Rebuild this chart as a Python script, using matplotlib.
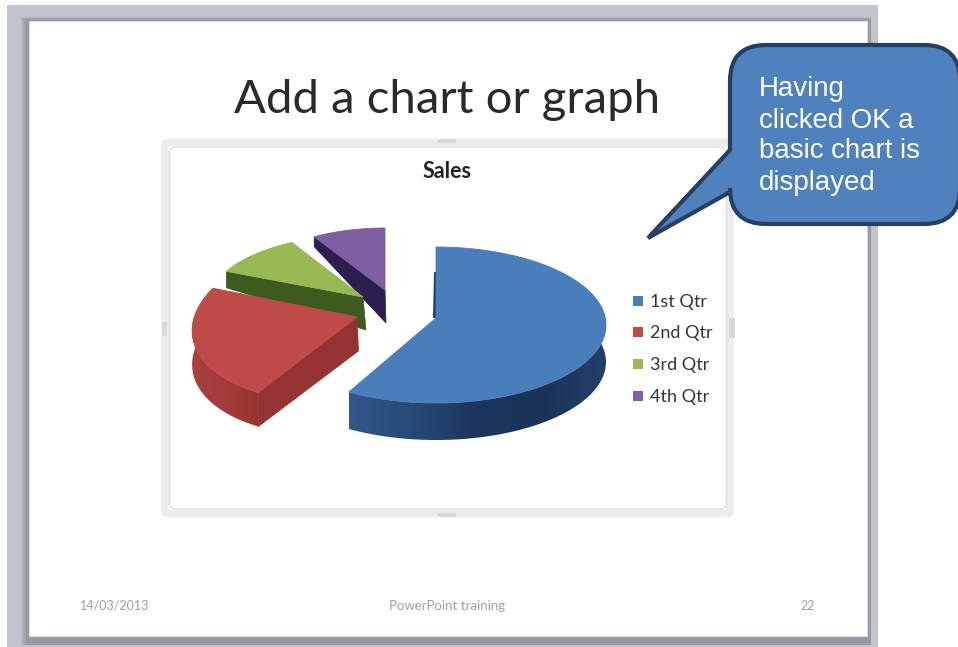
import numpy as np
import matplotlib
matplotlib.use('Agg')
import matplotlib.pyplot as plt
from matplotlib.colors import LinearSegmentedColormap
from matplotlib.path import Path
from matplotlib.patches import FancyBboxPatch, PathPatch, Polygon, Rectangle

# --- Data ---
categories = ['1st Qtr', '2nd Qtr', '3rd Qtr', '4th Qtr']
sales = [8.2, 3.2, 1.4, 1.2]
chart_title = 'Sales'
slide_title = 'Add a chart or graph'
callout_lines = ['Having', 'clicked OK a', 'basic chart is', 'displayed']

# --- Styles ---
top_colors = ['#4a7ebb', '#be4b48', '#98b954', '#7d60a0']
wall_colors = ['#254a78', '#943331', '#3f5a1e', '#2c1e4e']
legend_colors = ['#4a7ebb', '#be4b48', '#98b954', '#7d60a0']

# pie layout for each slice, in pixels (perspective is faked with a 2x2 matrix)
center = [(436, 325), (357, 317), (363, 297), (385, 290)]
tip = [(436, 318), (357, 317), (363, 297), (385, 290)]
shape = [(170, 0, 78, 0), (164, 17, 85, -5), (152, 8, 63, 1), (138, 0, 62, 0)]
depth = [37, 34, 33, 33]
taper = [0, 0, 0.5, 0.7]  # wall gets thinner towards the rim
wall_dx = [0, 1.5, 3, 1]

fig = plt.figure(figsize=(9.58, 6.47), dpi=100, facecolor='white')
ax = fig.add_axes([0, 0, 1, 1])
ax.axis('off')


def rim(i, clock):
    a = np.radians(90 - np.asarray(clock, dtype=float))
    rx, shx, ry, shy = shape[i]
    x = center[i][0] + rx * np.cos(a) + shx * np.sin(a)
    y = center[i][1] - ry * np.sin(a) + shy * np.cos(a)
    return np.column_stack([x, y])


def gradient_wall(pts, stops, z):
    # horizontal colour ramp clipped to the wall outline
    cmap = LinearSegmentedColormap.from_list('wall', stops)
    x0, x1 = pts[:, 0].min(), pts[:, 0].max()
    y0, y1 = pts[:, 1].min(), pts[:, 1].max()
    im = ax.imshow(np.linspace(0, 1, 256).reshape(1, -1), cmap=cmap, aspect='auto',
                   extent=(x0, x1, y1, y0), zorder=z)
    im.set_clip_path(Polygon(pts, transform=ax.transData))


# --- Slide background ---
ax.add_patch(Rectangle((7, 5), 871, 642, fc='#c0c4cc', ec='none', zorder=0))
for k in range(6):
    ax.add_patch(Rectangle((29 - 8 + k, 21 - 4 + k // 2), 838 + 12 - k, 615 + 13 - k // 2,
                           fc='#50555c', ec='none', alpha=0.07, zorder=0.5))
ax.add_patch(Rectangle((29, 21), 838, 615, fc='white', ec='#e8e8e8', lw=0.5, zorder=1))

ax.text(447, 100, slide_title, family='Lato', fontsize=34, color='#2a2a2a',
        ha='center', va='center', zorder=2)

# --- Chart frame ---
ax.add_patch(FancyBboxPatch((165, 142.5), 565, 371, boxstyle='round,pad=0,rounding_size=3',
                            fc='none', ec='#ececec', lw=5.5, zorder=2))
ax.add_patch(FancyBboxPatch((169.5, 147), 557, 362, boxstyle='round,pad=0,rounding_size=7',
                            fc='white', ec='#dcdcdc', lw=1, zorder=2))
for hx, hy, w, h in [(438, 139, 18, 4), (438, 513, 18, 4), (162, 322, 5, 14), (729, 318, 6, 20)]:
    ax.add_patch(Rectangle((hx, hy), w, h, fc='#d8d8d8', ec='none', zorder=2.1))
ax.text(447, 171, chart_title, family='Lato', fontsize=15.5, fontweight='bold',
        color='#222222', ha='center', va='center', zorder=3)

# --- Exploded 3D pie, angles come from the sales values ---
edges = np.concatenate([[0], np.cumsum(sales)]) / np.sum(sales) * 360
z = 3.0
for i in [3, 2, 1, 0]:
    start, end = edges[i], edges[i + 1]
    dep = depth[i]
    ap = np.array(tip[i], dtype=float)

    # outer wall, shaded along the rim
    if i == 0:
        p = rim(i, np.linspace(75, end, 80))
        gradient_wall(np.vstack([p, p[::-1] + [0, dep]]),
                      ['#30588a', '#264a78', '#1b355c', '#1a3359', '#243f6a'], z)
    elif i == 1:
        p = rim(i, np.linspace(start, 275, 50))
        gradient_wall(np.vstack([p, p[::-1] + [0, dep]]), ['#a84140', '#a33c3a', '#97352f'], z)

    # cut wall towards the viewer
    if i > 0:
        cut = rim(i, [start])[0]
        wall = [ap, cut, cut + [0, dep * (1 - taper[i])], ap + [wall_dx[i], dep]]
        ax.add_patch(Polygon(wall, fc=wall_colors[i], ec=wall_colors[i], lw=0.5, zorder=z + 0.1))
    else:
        # thin dark sliver next to the first slice's back edge
        back = rim(i, [start])[0]
        ax.add_patch(Polygon([back + [0, 25], ap, ap + [-3, 0], back + [-2, 25]],
                             fc='#1f3e69', ec='none', zorder=z + 0.1))

    # top face
    arc = rim(i, np.linspace(start, end, 90))
    ax.add_patch(Polygon(np.vstack([ap, arc]), fc=top_colors[i], ec=top_colors[i], lw=0.6,
                         joinstyle='round', zorder=z + 0.2))
    z += 1

# --- Legend ---
legend_y = [301, 332, 364, 396]
for name, col, y in zip(categories, legend_colors, legend_y):
    ax.add_patch(Rectangle((633, y - 5), 10, 10, fc=col, ec='none', zorder=8))
    ax.text(650, y + 1, name, family='Lato', fontsize=13, color='#333333', va='center', zorder=8)

# --- Footer ---
ax.text(80, 606, '14/03/2013', family='Lato', fontsize=9, color='#a0a0a0', va='center', zorder=2)
ax.text(447, 606, 'PowerPoint training', family='Lato', fontsize=9.5, color='#a0a0a0',
        ha='center', va='center', zorder=2)
ax.text(815, 606, '22', family='Lato', fontsize=9, color='#a0a0a0', ha='right', va='center', zorder=2)

# --- Callout ---
L, R, T, B, r = 730, 960, 45, 224, 36
verts = [(L + r, T), (R - r, T), (R, T), (R, T + r), (R, B - r), (R, B), (R - r, B),
         (L + r, B), (L, B), (L, B - r), (L, 192), (648, 238), (L, 150), (L, T + r), (L, T), (L + r, T)]
codes = [Path.MOVETO, Path.LINETO, Path.CURVE3, Path.CURVE3, Path.LINETO, Path.CURVE3, Path.CURVE3,
         Path.LINETO, Path.CURVE3, Path.CURVE3, Path.LINETO, Path.LINETO, Path.LINETO, Path.LINETO,
         Path.CURVE3, Path.CURVE3]
ax.add_patch(PathPatch(Path(verts, codes), fc='#4f81bd', ec='#254061', lw=3, joinstyle='miter', zorder=10))
for line, y in zip(callout_lines, [89, 121, 151, 183]):
    ax.text(759, y, line, family='Liberation Sans', fontsize=19.9, color='white', va='center', zorder=11)

ax.set_xlim(0, 958)
ax.set_ylim(647, 0)
fig.savefig('out.png', dpi=100, facecolor='white')
